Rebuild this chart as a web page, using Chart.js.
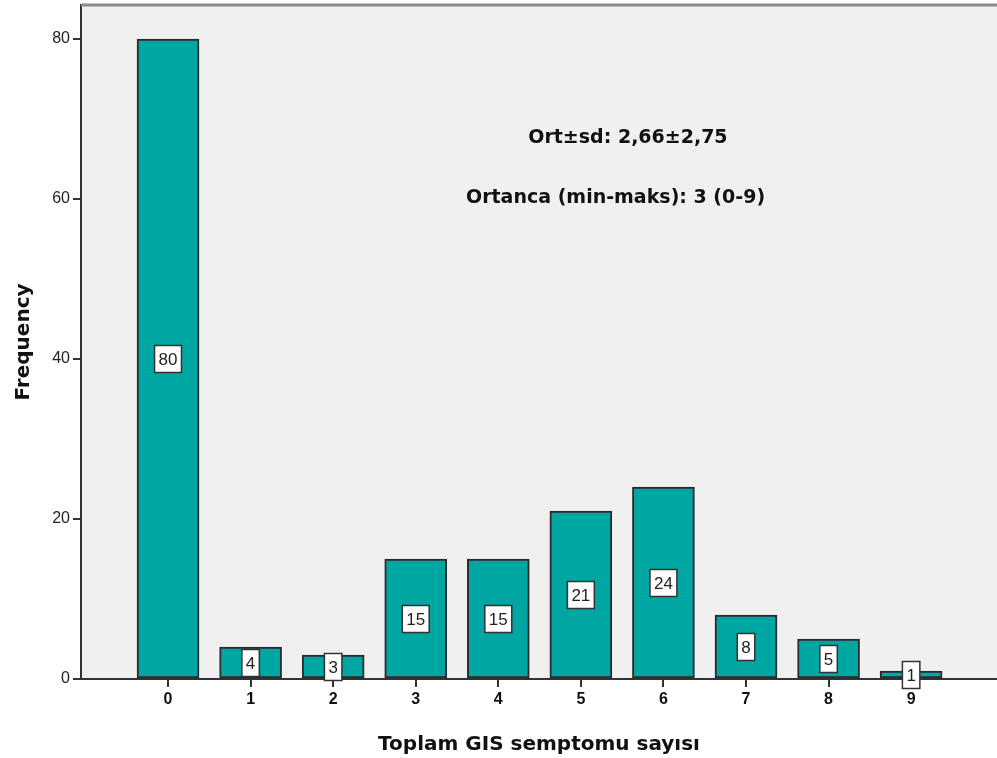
<!DOCTYPE html>
<html>
<head>
<meta charset="utf-8">
<script src="https://cdn.jsdelivr.net/npm/chart.js@4/dist/chart.umd.min.js"></script>
<style>
  html, body { margin: 0; padding: 0; background: #fff; }
  #wrap { width: 997px; height: 758px; }
</style>
</head>
<body>
<div id="wrap"><canvas id="histChart" width="997" height="758"></canvas></div>
<script>
// data
const categories = [0, 1, 2, 3, 4, 5, 6, 7, 8, 9];
const frequencies = [80, 4, 3, 15, 15, 21, 24, 8, 5, 1];
const yTicks = [0, 20, 40, 60, 80];
const statLines = ["Ort\u00b1sd: 2,66\u00b12,75", "Ortanca (min-maks): 3 (0-9)"];

const FONT = "'Liberation Sans', Arial, sans-serif";
const TITLE_FONT = "'DejaVu Sans', Verdana, sans-serif";

// gray plot background + top border line
const plotBackground = {
  id: "plotBackground",
  beforeDraw(chart) {
    const { ctx, chartArea } = chart;
    ctx.save();
    ctx.fillStyle = "#f0f0f0";
    ctx.fillRect(chartArea.left, chartArea.top, chartArea.right - chartArea.left, chartArea.bottom - chartArea.top);
    ctx.restore();
  },
  afterDraw(chart) {
    const { ctx, chartArea } = chart;
    ctx.save();
    ctx.strokeStyle = "#8a8a8a";
    ctx.lineWidth = 3;
    ctx.beginPath();
    ctx.moveTo(chartArea.left, chartArea.top);
    ctx.lineTo(chartArea.right, chartArea.top);
    ctx.stroke();
    ctx.restore();
  }
};

// boxed value labels at half the bar height
const boxLabels = {
  id: "boxLabels",
  afterDatasetsDraw(chart) {
    const { ctx } = chart;
    const yScale = chart.scales.y;
    const meta = chart.getDatasetMeta(0);
    ctx.save();
    ctx.font = "17px " + FONT;
    ctx.textAlign = "center";
    ctx.textBaseline = "middle";
    meta.data.forEach((bar, i) => {
      const v = frequencies[i];
      const txt = String(v);
      const cy = yScale.getPixelForValue(v / 2);
      const w = ctx.measureText(txt).width + 8;
      const h = 27;
      ctx.fillStyle = "#ffffff";
      ctx.fillRect(bar.x - w / 2, cy - h / 2, w, h);
      ctx.strokeStyle = "#333333";
      ctx.lineWidth = 1.5;
      ctx.strokeRect(bar.x - w / 2, cy - h / 2, w, h);
      ctx.fillStyle = "#222222";
      ctx.fillText(txt, bar.x, cy + 1);
    });
    ctx.restore();
  }
};

// summary statistics text
const statsText = {
  id: "statsText",
  afterDraw(chart) {
    const { ctx } = chart;
    const xs = chart.scales.x, ys = chart.scales.y;
    ctx.save();
    ctx.font = "bold 19px " + TITLE_FONT;
    ctx.fillStyle = "#111111";
    ctx.textAlign = "center";
    ctx.textBaseline = "middle";
    ctx.fillText(statLines[0], xs.getPixelForValue(5.57), ys.getPixelForValue(67.6));
    ctx.fillText(statLines[1], xs.getPixelForValue(5.42), ys.getPixelForValue(60.1));
    ctx.restore();
  }
};

const ctx = document.getElementById("histChart").getContext("2d");
new Chart(ctx, {
  type: "bar",
  data: {
    datasets: [{
      data: categories.map((c, i) => ({ x: c, y: frequencies[i] })),
      backgroundColor: "#00a6a1",
      borderColor: "#2b2b2b",
      borderWidth: 2,
      borderSkipped: false,
      barThickness: 62
    }]
  },
  options: {
    responsive: false,
    animation: false,
    layout: { padding: { top: 5, right: 0, left: 0, bottom: 0 } },
    plugins: { legend: { display: false }, tooltip: { enabled: false } },
    scales: {
      x: {
        type: "linear",
        offset: false,
        min: -1.054,
        max: 10.04,
        afterBuildTicks(scale) { scale.ticks = categories.map(v => ({ value: v })); },
        afterFit(scale) {
          scale.height = 79;
          scale.paddingLeft = 0;
          scale.paddingRight = 0;
        },
        ticks: { color: "#111", font: { family: FONT, size: 16, weight: "bold" }, padding: 3 },
        grid: { offset: false, drawOnChartArea: false, drawTicks: true, tickLength: 8, color: "#333", lineWidth: 2 },
        border: { display: true, color: "#333", width: 2 },
        title: {
          display: true,
          text: "Toplam GIS semptomu say\u0131s\u0131",
          color: "#111",
          font: { family: TITLE_FONT, size: 20, weight: "bold" },
          padding: { top: 0, bottom: 1 }
        }
      },
      y: {
        min: 0,
        max: 84.25,
        afterBuildTicks(scale) { scale.ticks = yTicks.map(v => ({ value: v })); },
        afterFit(scale) {
          scale.width = 81;
          scale.paddingTop = 0;
          scale.paddingBottom = 0;
        },
        ticks: { color: "#222", font: { family: FONT, size: 16 }, padding: 3 },
        grid: { drawOnChartArea: false, drawTicks: true, tickLength: 8, color: "#333", lineWidth: 2 },
        border: { display: true, color: "#333", width: 2 },
        title: {
          display: true,
          text: "Frequency",
          color: "#111",
          font: { family: TITLE_FONT, size: 20, weight: "bold" },
          padding: { top: 12, bottom: 0 }
        }
      }
    }
  },
  plugins: [plotBackground, boxLabels, statsText]
});
</script>
</body>
</html>
